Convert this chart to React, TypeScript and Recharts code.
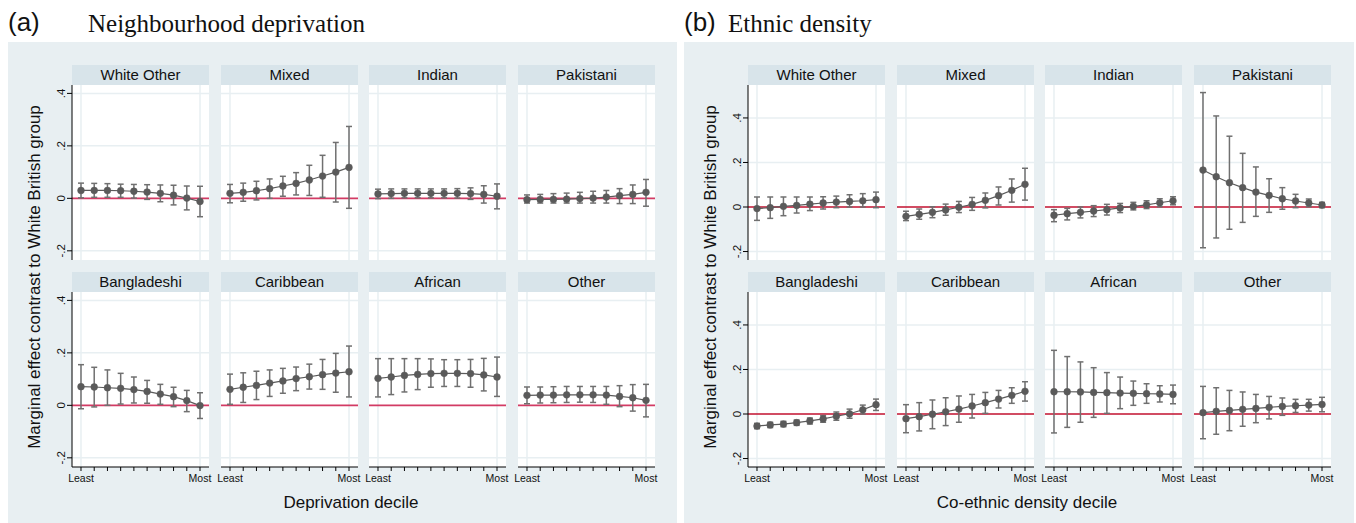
import { LineChart, Line, XAxis, YAxis, ErrorBar, ReferenceLine } from "recharts"

const groups = ["White Other", "Mixed", "Indian", "Pakistani", "Bangladeshi", "Caribbean", "African", "Other"]
const deciles = [1, 2, 3, 4, 5, 6, 7, 8, 9, 10]
const decileLabels = ["Least", "", "", "", "", "", "", "", "", "Most"]
const yTicks = [-0.2, 0, 0.2, 0.4]
const yTickLabels = ["-.2", "0", ".2", ".4"]
const panelTags = ["(a)", "(b)"]
const panelTitles = ["Neighbourhood deprivation", "Ethnic density"]
const xTitles = ["Deprivation decile", "Co-ethnic density decile"]
const yTitle = "Marginal effect contrast to White British group"

// (a) neighbourhood deprivation: point estimate, lower and upper CI
const aWhiteOtherMean = [0.030, 0.030, 0.030, 0.029, 0.027, 0.024, 0.019, 0.012, 0.001, -0.012]
const aWhiteOtherLo = [0.002, 0.004, 0.004, 0.004, 0.001, -0.004, -0.013, -0.025, -0.044, -0.070]
const aWhiteOtherHi = [0.058, 0.057, 0.056, 0.054, 0.053, 0.052, 0.051, 0.050, 0.047, 0.046]
const aMixedMean = [0.019, 0.023, 0.029, 0.037, 0.047, 0.057, 0.070, 0.085, 0.100, 0.118]
const aMixedLo = [-0.017, -0.011, -0.006, 0.000, 0.008, 0.013, 0.011, 0.004, -0.014, -0.038]
const aMixedHi = [0.053, 0.058, 0.065, 0.074, 0.084, 0.098, 0.126, 0.164, 0.213, 0.274]
const aIndianMean = [0.017, 0.018, 0.019, 0.019, 0.019, 0.019, 0.019, 0.018, 0.015, 0.008]
const aIndianLo = [-0.001, 0.000, 0.002, 0.002, 0.002, 0.002, 0.001, -0.004, -0.018, -0.040]
const aIndianHi = [0.035, 0.036, 0.036, 0.036, 0.036, 0.036, 0.037, 0.040, 0.048, 0.055]
const aPakistaniMean = [-0.005, -0.004, -0.004, -0.003, -0.001, 0.001, 0.005, 0.010, 0.015, 0.023]
const aPakistaniLo = [-0.018, -0.018, -0.018, -0.018, -0.018, -0.018, -0.018, -0.020, -0.020, -0.030]
const aPakistaniHi = [0.013, 0.015, 0.018, 0.020, 0.023, 0.027, 0.030, 0.037, 0.051, 0.072]
const aBangladeshiMean = [0.071, 0.070, 0.067, 0.065, 0.060, 0.053, 0.043, 0.033, 0.018, -0.001]
const aBangladeshiLo = [-0.013, -0.006, 0.000, 0.005, 0.009, 0.008, 0.004, -0.005, -0.024, -0.050]
const aBangladeshiHi = [0.155, 0.145, 0.135, 0.122, 0.108, 0.095, 0.080, 0.069, 0.057, 0.048]
const aCaribbeanMean = [0.061, 0.069, 0.076, 0.085, 0.093, 0.102, 0.109, 0.117, 0.123, 0.128]
const aCaribbeanLo = [0.004, 0.011, 0.022, 0.034, 0.046, 0.056, 0.062, 0.061, 0.050, 0.032]
const aCaribbeanHi = [0.119, 0.124, 0.130, 0.135, 0.141, 0.146, 0.157, 0.175, 0.198, 0.226]
const aAfricanMean = [0.103, 0.108, 0.114, 0.118, 0.121, 0.122, 0.122, 0.121, 0.116, 0.108]
const aAfricanLo = [0.032, 0.041, 0.051, 0.060, 0.069, 0.072, 0.072, 0.069, 0.055, 0.034]
const aAfricanHi = [0.178, 0.178, 0.178, 0.178, 0.177, 0.174, 0.174, 0.175, 0.179, 0.184]
const aOtherMean = [0.038, 0.039, 0.039, 0.040, 0.040, 0.040, 0.039, 0.034, 0.029, 0.019]
const aOtherLo = [0.006, 0.009, 0.010, 0.011, 0.012, 0.011, 0.004, -0.005, -0.022, -0.044]
const aOtherHi = [0.070, 0.070, 0.071, 0.072, 0.072, 0.072, 0.072, 0.075, 0.079, 0.080]

// (b) ethnic density
const bWhiteOtherMean = [-0.007, -0.003, 0.003, 0.007, 0.013, 0.018, 0.022, 0.025, 0.028, 0.033]
const bWhiteOtherLo = [-0.060, -0.051, -0.039, -0.027, -0.016, -0.009, -0.003, 0.000, 0.000, -0.003]
const bWhiteOtherHi = [0.045, 0.045, 0.045, 0.045, 0.045, 0.046, 0.049, 0.055, 0.060, 0.067]
const bMixedMean = [-0.042, -0.033, -0.024, -0.013, -0.001, 0.012, 0.030, 0.051, 0.075, 0.102]
const bMixedLo = [-0.061, -0.055, -0.048, -0.037, -0.025, -0.015, -0.004, 0.009, 0.022, 0.031]
const bMixedHi = [-0.019, -0.009, 0.001, 0.013, 0.025, 0.043, 0.063, 0.090, 0.126, 0.174]
const bIndianMean = [-0.037, -0.030, -0.024, -0.018, -0.012, -0.004, 0.003, 0.010, 0.019, 0.028]
const bIndianLo = [-0.066, -0.058, -0.049, -0.043, -0.036, -0.025, -0.013, -0.007, 0.001, 0.010]
const bIndianHi = [-0.012, -0.006, 0.000, 0.006, 0.012, 0.016, 0.021, 0.028, 0.037, 0.046]
const bPakistaniMean = [0.166, 0.136, 0.109, 0.087, 0.067, 0.052, 0.037, 0.027, 0.018, 0.009]
const bPakistaniLo = [-0.183, -0.139, -0.100, -0.069, -0.042, -0.024, -0.010, -0.003, 0.001, -0.003]
const bPakistaniHi = [0.514, 0.409, 0.318, 0.241, 0.180, 0.127, 0.087, 0.057, 0.036, 0.021]
const bBangladeshiMean = [-0.054, -0.049, -0.045, -0.039, -0.031, -0.022, -0.010, 0.001, 0.019, 0.042]
const bBangladeshiLo = [-0.066, -0.061, -0.057, -0.051, -0.045, -0.037, -0.028, -0.019, 0.000, 0.016]
const bBangladeshiHi = [-0.042, -0.037, -0.033, -0.027, -0.018, -0.007, 0.009, 0.022, 0.040, 0.067]
const bCaribbeanMean = [-0.021, -0.012, -0.001, 0.010, 0.022, 0.036, 0.051, 0.067, 0.084, 0.102]
const bCaribbeanLo = [-0.084, -0.076, -0.066, -0.052, -0.037, -0.018, 0.003, 0.027, 0.048, 0.058]
const bCaribbeanHi = [0.042, 0.051, 0.063, 0.073, 0.081, 0.088, 0.097, 0.106, 0.118, 0.145]
const bAfricanMean = [0.100, 0.100, 0.099, 0.097, 0.096, 0.094, 0.093, 0.091, 0.090, 0.088]
const bAfricanLo = [-0.085, -0.060, -0.037, -0.015, 0.003, 0.024, 0.039, 0.048, 0.054, 0.046]
const bAfricanHi = [0.286, 0.258, 0.234, 0.208, 0.186, 0.166, 0.148, 0.136, 0.127, 0.130]
const bOtherMean = [0.006, 0.012, 0.016, 0.021, 0.025, 0.030, 0.034, 0.037, 0.040, 0.043]
const bOtherLo = [-0.111, -0.091, -0.075, -0.055, -0.039, -0.022, -0.006, 0.007, 0.013, 0.010]
const bOtherHi = [0.124, 0.118, 0.106, 0.099, 0.088, 0.079, 0.072, 0.066, 0.066, 0.075]

const depSeries = [
  [aWhiteOtherMean, aWhiteOtherLo, aWhiteOtherHi],
  [aMixedMean, aMixedLo, aMixedHi],
  [aIndianMean, aIndianLo, aIndianHi],
  [aPakistaniMean, aPakistaniLo, aPakistaniHi],
  [aBangladeshiMean, aBangladeshiLo, aBangladeshiHi],
  [aCaribbeanMean, aCaribbeanLo, aCaribbeanHi],
  [aAfricanMean, aAfricanLo, aAfricanHi],
  [aOtherMean, aOtherLo, aOtherHi],
]
const denSeries = [
  [bWhiteOtherMean, bWhiteOtherLo, bWhiteOtherHi],
  [bMixedMean, bMixedLo, bMixedHi],
  [bIndianMean, bIndianLo, bIndianHi],
  [bPakistaniMean, bPakistaniLo, bPakistaniHi],
  [bBangladeshiMean, bBangladeshiLo, bBangladeshiHi],
  [bCaribbeanMean, bCaribbeanLo, bCaribbeanHi],
  [bAfricanMean, bAfricanLo, bAfricanHi],
  [bOtherMean, bOtherLo, bOtherHi],
]

const SANS = '"Liberation Sans", Arial, Helvetica, sans-serif'
const SERIF = '"Liberation Serif", "Times New Roman", serif'
const BG = "#e8eff2"
const STRIP = "#d8e4ea"
const GRID = "#e8eff2"
const MARK = "#5a5a5a"
const BAR = "#707070"

const panelX = [8, 684]
const panelW = [669, 670]
const colX = [64, 213, 361, 510]
const rowY = [65, 272]
const FW = 137
const SH = 20
const PH = 175
const YAW = 34
const XAH = 26
const SIDE = 18 // room either side so the Least / Most labels are not clipped

const RotTick = (props: any) => {
  const { x, y, payload } = props
  const cx = x - 4
  const label = yTickLabels[yTicks.indexOf(payload.value)]
  return (
    <text x={cx} y={y} textAnchor="middle" dominantBaseline="central" transform={`rotate(-90 ${cx} ${y})`} fontSize={11.5} fill="#111" fontFamily={SANS}>
      {label}
    </text>
  )
}

function Facet({ left, top, series, domain, showY, showX, zeroColor, zeroWidth }: any) {
  const [mean, lo, hi] = series
  const data = deciles.map((d, i) => ({ d, mean: mean[i], err: [mean[i] - lo[i], hi[i] - mean[i]] }))
  const yw = showY ? YAW : 0
  const xh = showX ? XAH : 0
  const ml = showY ? 0 : SIDE
  return (
    <div style={{ position: "absolute", left: left - yw - ml, top: top + SH }}>
      <LineChart width={FW + yw + ml + SIDE} height={PH + xh} data={data} margin={{ top: 0, right: SIDE, bottom: 0, left: ml }}>
        <XAxis
          dataKey="d"
          type="number"
          domain={[0.32, 10.68]}
          ticks={deciles}
          interval={0}
          hide={!showX}
          height={XAH}
          tickSize={4}
          tickMargin={4}
          axisLine={{ stroke: "#000" }}
          tickLine={{ stroke: "#000" }}
          tick={{ fontSize: 10.5, fill: "#111", fontFamily: SANS }}
          tickFormatter={(v: number) => decileLabels[deciles.indexOf(v)]}
          allowDataOverflow
        />
        <YAxis
          type="number"
          domain={domain}
          ticks={yTicks}
          interval={0}
          hide={!showY}
          width={YAW}
          tickSize={5}
          tickMargin={2}
          axisLine={{ stroke: "#000" }}
          tickLine={{ stroke: "#000" }}
          tick={<RotTick />}
          allowDataOverflow
        />
        {yTicks.filter((t) => t !== 0).map((t) => (
          <ReferenceLine key={t} y={t} stroke={GRID} strokeWidth={1.5} />
        ))}
        <ReferenceLine x={deciles[0]} stroke={GRID} strokeWidth={1.5} />
        <ReferenceLine x={deciles[deciles.length - 1]} stroke={GRID} strokeWidth={1.5} />
        <ReferenceLine y={0} stroke={zeroColor} strokeWidth={zeroWidth} />
        <Line
          dataKey="mean"
          stroke={MARK}
          strokeWidth={1.2}
          dot={{ r: 3.4, fill: MARK, stroke: MARK, strokeWidth: 0.5 }}
          activeDot={false}
          isAnimationActive={false}
        >
          <ErrorBar dataKey="err" direction="y" width={3} stroke={BAR} strokeWidth={1.5} isAnimationActive={false} />
        </Line>
      </LineChart>
    </div>
  )
}

const panels = [
  { series: depSeries, domain: [-0.235, 0.432], zeroColor: "#d23b64", zeroWidth: 1.6 },
  { series: denSeries, domain: [-0.238, 0.548], zeroColor: "#c2102f", zeroWidth: 1.3 },
]

export default function App() {
  return (
    <div style={{ position: "absolute", left: 0, top: 0, width: 1356, height: 523, background: "#fff", overflow: "hidden" }}>
      <svg width={1356} height={523} style={{ position: "absolute", left: 0, top: 0 }}>
        {panels.map((p, pi) => {
          const px = panelX[pi]
          return (
            <g key={pi}>
              <rect x={px} y={42} width={panelW[pi]} height={481} fill={BG} />
              <text x={px} y={31} fontSize={26} fontFamily={SANS} fill="#111">{panelTags[pi]}</text>
              <text x={pi === 0 ? 88 : 728} y={32} fontSize={25} fontFamily={SERIF} fill="#111">{panelTitles[pi]}</text>
              {groups.map((g, gi) => {
                const fx = px + colX[gi % 4]
                const fy = rowY[Math.floor(gi / 4)]
                return (
                  <g key={g}>
                    <rect x={fx} y={fy} width={FW} height={SH} fill={STRIP} />
                    <rect x={fx} y={fy + SH} width={FW} height={PH} fill="#fff" />
                    <text x={fx + FW / 2} y={fy + 15} textAnchor="middle" fontSize={15} fontFamily={SANS} fill="#111">{g}</text>
                  </g>
                )
              })}
              <text x={px + 343} y={508} textAnchor="middle" fontSize={17} fontFamily={SANS} fill="#111">{xTitles[pi]}</text>
              <text x={px + 32} y={277} textAnchor="middle" fontSize={17} fontFamily={SANS} fill="#111" transform={`rotate(-90 ${px + 32} 277)`}>{yTitle}</text>
            </g>
          )
        })}
      </svg>
      {panels.map((p, pi) =>
        groups.map((g, gi) => (
          <Facet
            key={`${pi}-${g}`}
            left={panelX[pi] + colX[gi % 4]}
            top={rowY[Math.floor(gi / 4)]}
            series={p.series[gi]}
            domain={p.domain}
            showY={gi % 4 === 0}
            showX={gi >= 4}
            zeroColor={p.zeroColor}
            zeroWidth={p.zeroWidth}
          />
        ))
      )}
    </div>
  )
}
